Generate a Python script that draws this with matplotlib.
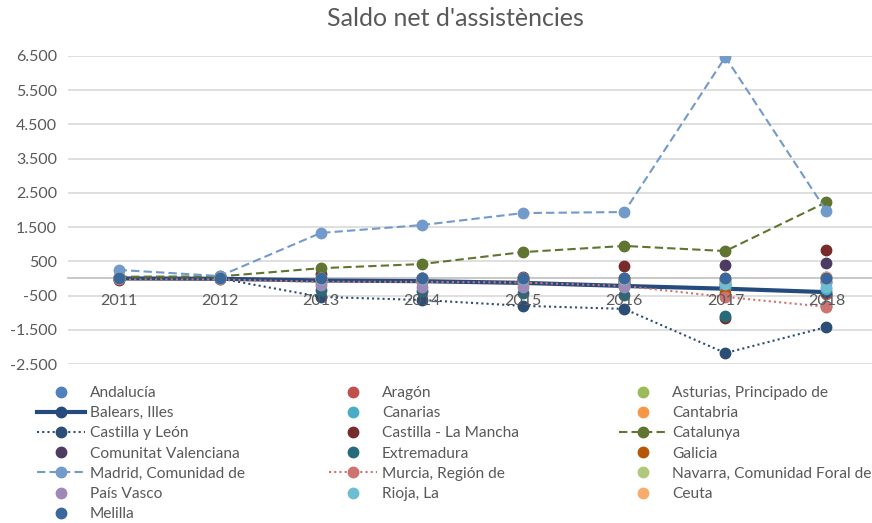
import matplotlib.pyplot as plt

plt.rcParams['font.family'] = ['Lato', 'DejaVu Sans']

years = ['2011', '2012', '2013', '2014', '2015', '2016', '2017', '2018']

andalucia = [20, 10, -30, -20, -60, -100, -150, 50]
aragon = [-10, 0, -50, -30, -60, -120, -200, -450]
asturias = [0, 0, -20, -20, -30, -40, -50, -60]
balears = [0, -10, -60, -80, -130, -220, -300, -400]
canarias = [10, 0, -80, -60, -100, -120, -280, -300]
cantabria = [0, 0, -10, -10, -20, -20, -40, 30]
castilla_leon = [0, 0, -540, -630, -800, -890, -2180, -1420]
castilla_mancha = [-60, 0, 120, 20, 30, 370, -1150, 830]
catalunya = [50, 60, 300, 420, 770, 950, 800, 2230]
valenciana = [0, 0, -50, 0, 10, 0, 390, 450]
extremadura = [0, 0, -350, -380, -430, -480, -1100, -800]
galicia = [0, 0, -40, -30, -60, -80, -430, -100]
madrid = [250, 70, 1330, 1560, 1910, 1940, 6470, 1970]
murcia = [-30, -30, -100, -100, -120, -220, -540, -830]
navarra = [0, 0, 10, 10, 0, -10, -20, 0]
pais_vasco = [0, 0, -190, -250, -250, -250, -100, -100]
rioja = [0, 0, -10, -10, -20, -30, -150, -250]
ceuta = [0, 0, 0, 0, 0, 0, 0, 50]
melilla = [0, 0, 0, 0, 0, 0, 0, 0]

# name, values, color, line style, line width
series = [
    ('Andalucía', andalucia, '#4F81BD', 'none', 0),
    ('Aragón', aragon, '#C0504D', 'none', 0),
    ('Asturias, Principado de', asturias, '#9BBB59', 'none', 0),
    ('Balears, Illes', balears, '#254A7E', '-', 3),
    ('Canarias', canarias, '#4BACC6', 'none', 0),
    ('Cantabria', cantabria, '#F79646', 'none', 0),
    ('Castilla y León', castilla_leon, '#2C4D75', (0, (1, 1.5)), 1.5),
    ('Castilla - La Mancha', castilla_mancha, '#772C2A', 'none', 0),
    ('Catalunya', catalunya, '#5F7530', (0, (4, 2)), 1.5),
    ('Comunitat Valenciana', valenciana, '#4D3B62', 'none', 0),
    ('Extremadura', extremadura, '#276A7C', 'none', 0),
    ('Galicia', galicia, '#B65708', 'none', 0),
    ('Madrid, Comunidad de', madrid, '#729ACA', (0, (4, 2)), 1.5),
    ('Murcia, Región de', murcia, '#CD7371', (0, (1, 1.5)), 1.5),
    ('Navarra, Comunidad Foral de', navarra, '#AFC97A', 'none', 0),
    ('País Vasco', pais_vasco, '#9F8AB7', 'none', 0),
    ('Rioja, La', rioja, '#6FBDD1', 'none', 0),
    ('Ceuta', ceuta, '#F9AB6B', 'none', 0),
    ('Melilla', melilla, '#3A679C', 'none', 0),
]

fig = plt.figure(figsize=(8.72, 5.23), dpi=100)
ax = fig.add_axes([0.078, 0.304, 0.922, 0.589])

x = list(range(len(years)))
handles = []
for i, (name, vals, col, ls, lw) in enumerate(series):
    h, = ax.plot(x, vals, color=col, linestyle=ls, linewidth=lw if lw else 0,
                 marker='o', markersize=7.5, markeredgecolor=col, zorder=3 + i * 0.01,
                 label=name)
    handles.append(h)

ax.set_ylim(-2500, 6500)
ax.set_xlim(-0.5, 7.45)
ax.set_yticks(range(-2500, 7000, 1000))
ax.set_yticklabels([f'{v:,}'.replace(',', '.') for v in range(-2500, 7000, 1000)])
ax.set_xticks(x)
ax.set_xticklabels(years)
ax.yaxis.grid(True, color='#D9D9D9', linewidth=1.2)
ax.set_axisbelow(True)
ax.xaxis.set_zorder(5)  # year labels sit over the markers
for s in ['top', 'right', 'left']:
    ax.spines[s].set_visible(False)
ax.spines['bottom'].set_position(('data', 0))
ax.spines['bottom'].set_color('#BFBFBF')
ax.spines['bottom'].set_linewidth(1.2)
ax.tick_params(axis='both', length=0, labelsize=11.5, labelcolor='#595959')
ax.tick_params(axis='y', pad=8)
ax.tick_params(axis='x', pad=11)

fig.text(0.522, 0.965, "Saldo net d'assistències", ha='center', va='center',
         fontsize=18, color='#595959')

# legend: three columns laid out row by row, one legend per column
ncol = 3
col_x = [0.042, 0.377, 0.710]
for c in range(ncol):
    hs = handles[c::ncol]
    leg = fig.legend(handles=hs, labels=[h.get_label() for h in hs], ncol=1,
                     loc='upper left', bbox_to_anchor=(col_x[c], 0.262), frameon=False,
                     fontsize=11.2, labelcolor='#595959', handlelength=3.1,
                     handletextpad=0.32, labelspacing=0.40,
                     borderaxespad=0, borderpad=0)

fig.savefig('out.png', dpi=100)
